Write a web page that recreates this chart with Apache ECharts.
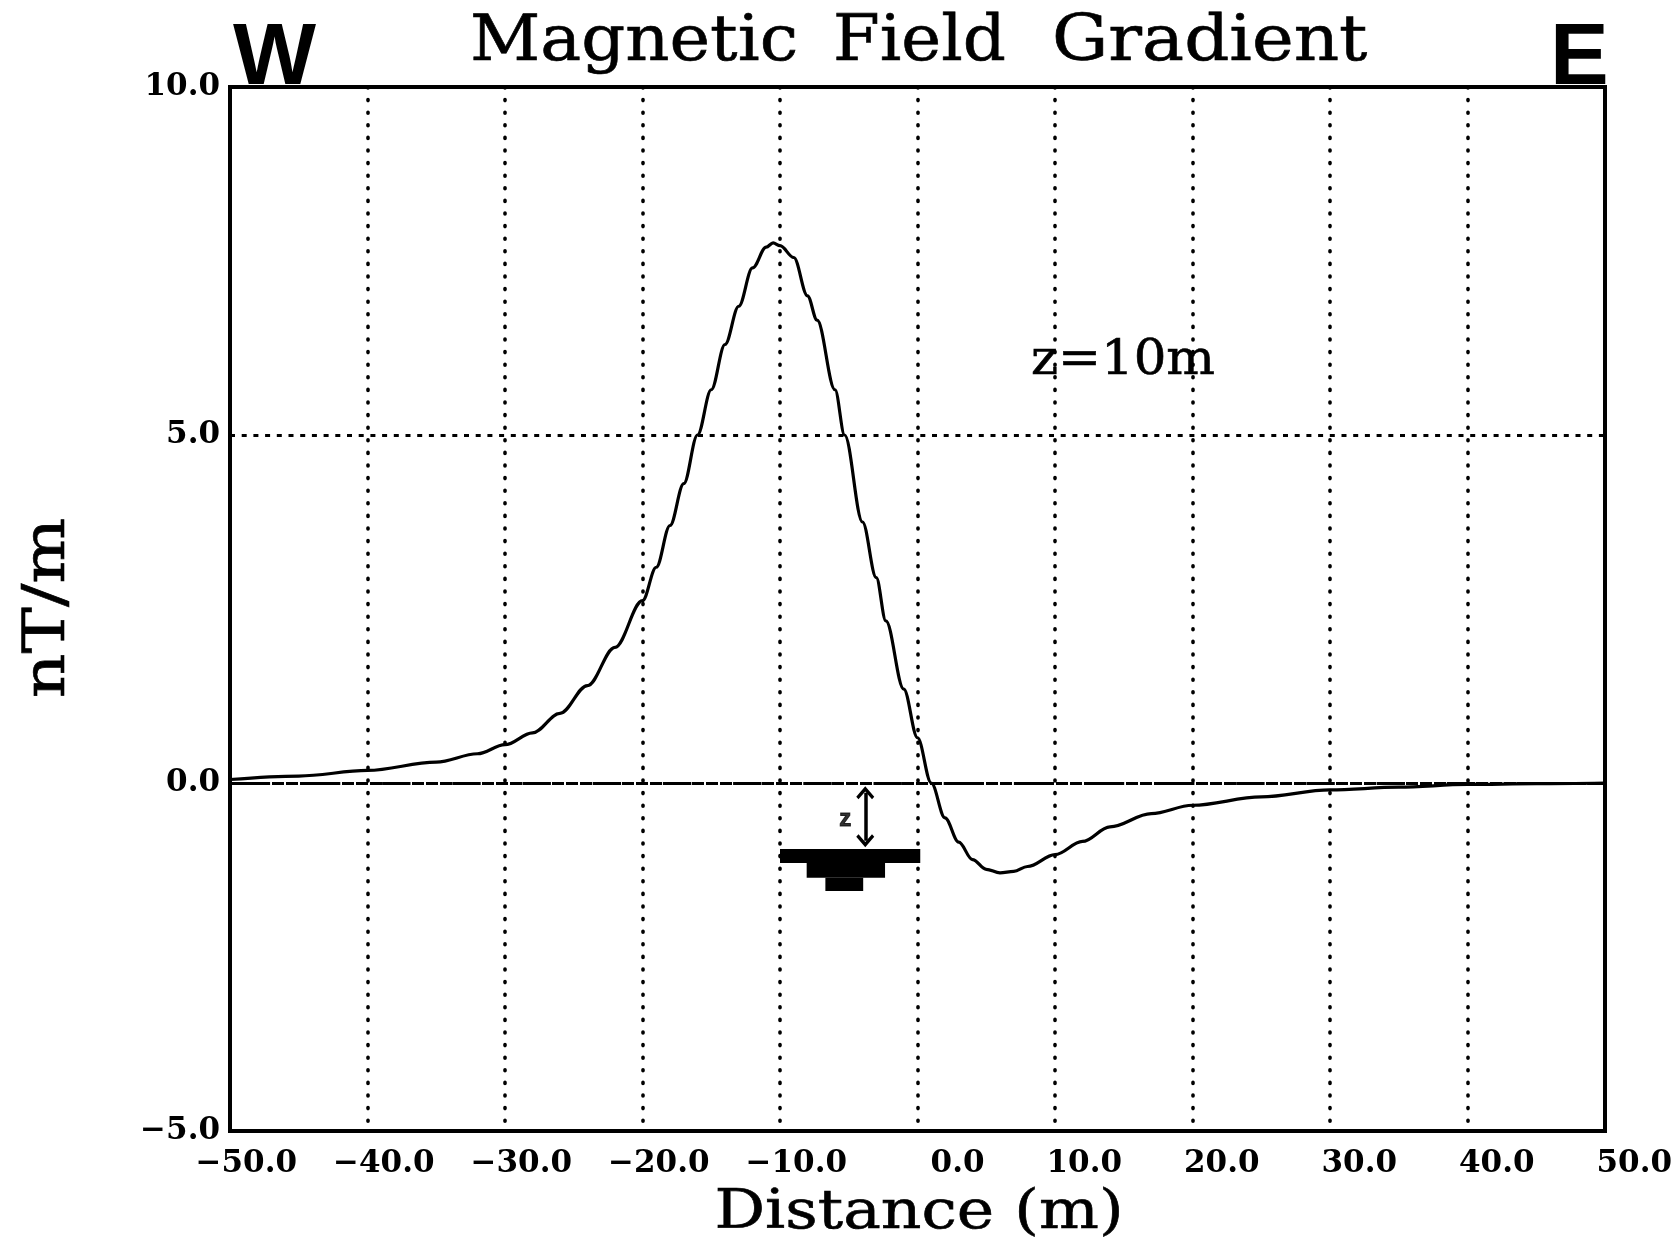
<!DOCTYPE html>
<html>
<head>
<meta charset="utf-8">
<script src="https://cdn.jsdelivr.net/npm/echarts@6/dist/echarts.min.js"></script>
<style>
html,body{margin:0;padding:0;background:#fff;}
#c{width:1675px;height:1243px;}
</style>
</head>
<body>
<div id="c"></div>
<script>
// ---- data ----
const distance = [-50,-45,-40,-35,-32,-30,-28,-26,-24,-22,-20,-19,-18,-17,-16,-15,-14,-13,-12,-11,-10.5,-10,-9,-8,-7.3,-6,-5.3,-4,-3,-2.3,-1,0,1,2,3,4,5,6,7,8,10,12,14,17,20,25,30,35,40,45,50];
const gradient = [0.05,0.10,0.18,0.30,0.42,0.55,0.72,1.00,1.40,1.95,2.62,3.10,3.70,4.30,5.00,5.65,6.30,6.85,7.40,7.70,7.76,7.72,7.55,7.00,6.65,5.65,5.00,3.75,2.95,2.33,1.35,0.65,0.00,-0.50,-0.85,-1.10,-1.24,-1.29,-1.27,-1.20,-1.03,-0.84,-0.63,-0.44,-0.32,-0.20,-0.10,-0.06,-0.02,-0.01,0.00];
const xTicks = [-50,-40,-30,-20,-10,0,10,20,30,40,50];
const xTickLabels = ['\u221250.0','\u221240.0','\u221230.0','\u221220.0','\u221210.0','0.0','10.0','20.0','30.0','40.0','50.0'];
const yTicks = [-5,0,5,10];
const yTickLabels = ['\u22125.0','0.0','5.0','10.0'];
// buried body sketch: [xStart, xEnd, yTop, yBottom]
const bodyBlocks = [[-10,0.2,-0.95,-1.15],[-8.06,-2.36,-1.15,-1.36],[-6.7,-3.95,-1.36,-1.55]];
const depthArrow = [[-3.8,-0.14],[-3.8,-0.83]];
const depthLabelPos = [-5.25,-0.52];

const chart = echarts.init(document.getElementById('c'));
const serif = '"DejaVu Serif", "Liberation Serif", serif';
const chevron = 'path://M0,0 L12,12 L9,15 L0,6 L-9,15 L-12,12 Z';
const thick = {stroke:'#000',lineWidth:0.6};

const option = {
  backgroundColor:'#fff',
  animation:false,
  grid:{left:230,top:87,width:1375,height:1044,show:true,borderColor:'#000',borderWidth:4,backgroundColor:'transparent'},
  xAxis:{type:'value',min:-50,max:50,interval:10,
    axisLine:{show:false},axisTick:{show:false},
    axisLabel:{margin:17,color:'#000',fontFamily:serif,fontWeight:'bold',fontSize:31,
      formatter:v=>{const i=xTicks.indexOf(v);return i>=0?'{r|'+xTickLabels[i]+'}':'';},
      rich:{r:{width:134,align:'right',color:'#000',fontFamily:serif,fontWeight:'bold',fontSize:31}}},
    splitLine:{show:true,lineStyle:{color:'#000',width:3.6,type:[1,11.6],cap:'round'}}},
  yAxis:{type:'value',min:-5,max:10,interval:5,
    axisLine:{show:false},axisTick:{show:false},
    axisLabel:{margin:10,color:'#000',fontFamily:serif,fontWeight:'bold',fontSize:31,
      formatter:v=>{const i=yTicks.indexOf(v);return i>=0?yTickLabels[i]:'';}},
    splitLine:{show:true,lineStyle:{color:'#000',width:3,type:[5,6.7]}}},
  series:[
    {type:'line',data:distance.map((x,i)=>[x,gradient[i]]),showSymbol:false,smooth:0.35,smoothMonotone:'x',
     lineStyle:{color:'#000',width:3.2},z:5,
     markArea:{silent:true,label:{show:false},itemStyle:{color:'#000',opacity:1},
       data:bodyBlocks.map(b=>[{coord:[b[0],b[2]]},{coord:[b[1],b[3]]}])},
     markLine:{silent:true,animation:false,label:{show:false},symbol:'none',
       data:[
         [{coord:[-50,0],lineStyle:{color:'#000',width:3,type:[12,2]}},{coord:[50,0]}],
         [{coord:depthArrow[0],symbol:chevron,symbolSize:[18,13],lineStyle:{color:'#000',width:3.5,type:'solid'}},{coord:depthArrow[1],symbol:chevron,symbolSize:[18,13]}]
       ]}
    },
    {type:'scatter',data:[depthLabelPos],symbolSize:0,silent:true,z:6,
     label:{show:true,position:'inside',formatter:'z',color:'#000',fontFamily:'"Liberation Sans", Arial, sans-serif',fontWeight:'bold',fontSize:24,textBorderColor:'#000',textBorderWidth:1}}
  ],
  graphic:[
    {type:'text',x:233,y:60,style:{text:'W',font:'bold 88px "Liberation Sans", Arial, sans-serif',fill:'#000',textAlign:'left',textVerticalAlign:'middle'}},
    {type:'text',x:1550,y:60,style:{text:'E',font:'bold 88px "Liberation Sans", Arial, sans-serif',fill:'#000',textAlign:'left',textVerticalAlign:'middle'}},
    {type:'text',x:470,y:44,scaleX:1.09,style:Object.assign({text:'Magnetic',font:'63px '+serif,fill:'#000',textAlign:'left',textVerticalAlign:'middle'},thick)},
    {type:'text',x:833,y:44,scaleX:1.07,style:Object.assign({text:'Field',font:'63px '+serif,fill:'#000',textAlign:'left',textVerticalAlign:'middle'},thick)},
    {type:'text',x:1052,y:44,scaleX:1.12,style:Object.assign({text:'Gradient',font:'63px '+serif,fill:'#000',textAlign:'left',textVerticalAlign:'middle'},thick)},
    {type:'text',x:919,y:1214,scaleX:1.17,style:Object.assign({text:'Distance (m)',font:'54px '+serif,fill:'#000',textAlign:'center',textVerticalAlign:'middle'},thick)},
    {type:'text',x:49,y:608,rotation:Math.PI/2,scaleX:1.22,style:Object.assign({text:'nT/m',font:'57px '+serif,fill:'#000',textAlign:'center',textVerticalAlign:'middle'},thick)},
    {type:'text',x:1123,y:362,scaleX:1.07,style:Object.assign({text:'z=10m',font:'48px '+serif,fill:'#000',textAlign:'center',textVerticalAlign:'middle'},thick)}
  ]
};
chart.setOption(option);
</script>
</body>
</html>
